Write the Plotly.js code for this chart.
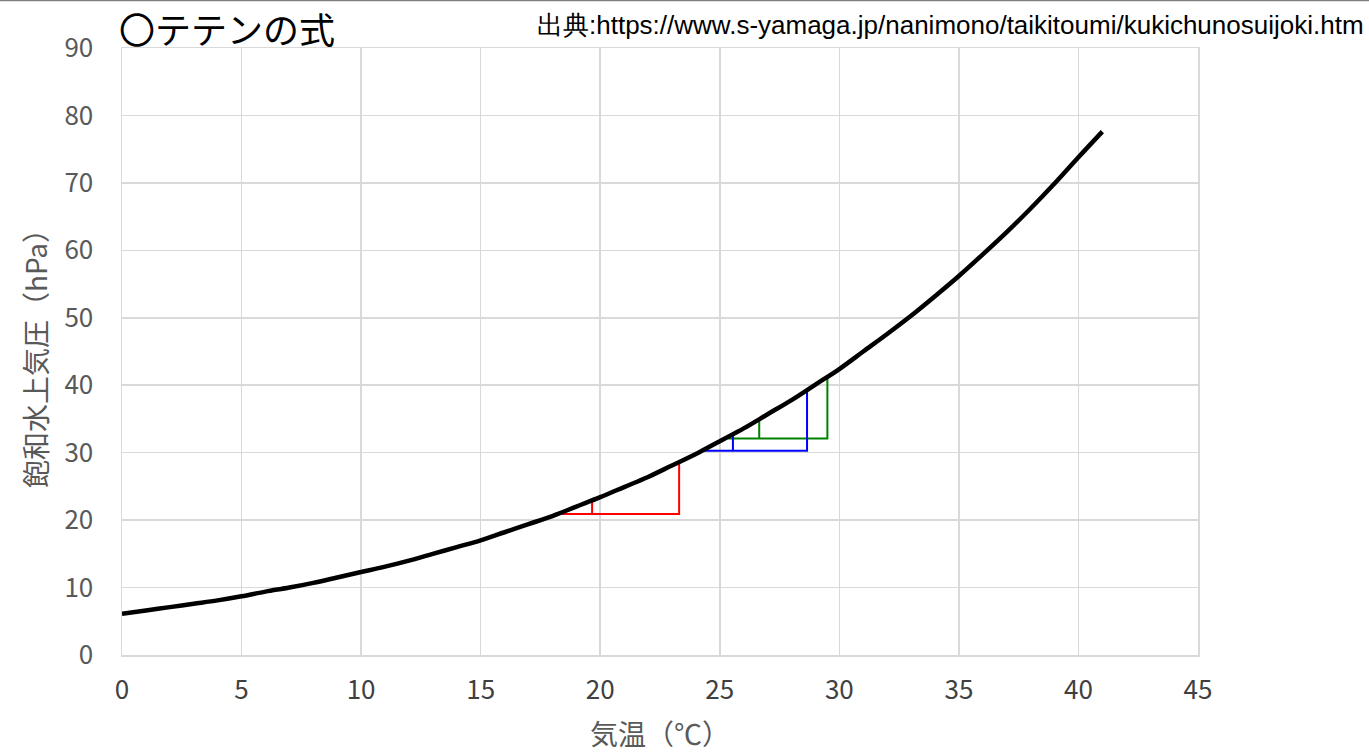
<!DOCTYPE html>
<html><head><meta charset="utf-8">
<script src="https://cdn.plot.ly/plotly-3.0.1.min.js"></script>
<style>html,body{margin:0;padding:0;background:#fff;}#chart{width:1369px;height:753px;}</style>
</head><body><div id="chart"></div>
<script>
// Saturation vapor pressure curve
const temps = [0,1,2,3,4,5,6,7,8,9,10,11,12,13,14,15,16,17,18,19,20,21,22,23,24,25,26,27,28,29,30,31,32,33,34,35,36,37,38,39,40,41];
const pressures = [6.1,6.6,7.1,7.6,8.1,8.7,9.4,10.0,10.7,11.5,12.3,13.1,14.0,15.0,16.0,17.0,18.2,19.4,20.6,22.0,23.4,24.9,26.4,28.1,29.8,31.7,33.6,35.7,37.8,40.1,42.4,45.0,47.6,50.3,53.2,56.2,59.4,62.7,66.2,69.9,73.8,77.6];
// Step lines
const redX = [18.2,19.66,19.66,19.66,23.3,23.3];
const redY = [20.9,20.9,23.0,20.9,20.9,28.4];
const blueX = [24.2,25.55,25.55,25.55,28.65,28.65];
const blueY = [30.3,30.3,32.7,30.3,30.3,39.1];
const greenX = [25.35,26.65,26.65,26.65,29.5,29.5];
const greenY = [32.1,32.1,35.0,32.1,32.1,41.2];

const titleText = '〇テテンの式';
const sourceText = '出典:https://www.s-yamaga.jp/nanimono/taikitoumi/kukichunosuijoki.htm';
const xTitle = '気温（℃）';
const yTitle = '飽和水上気圧（hPa）';

const jp = '"Noto Sans CJK JP", "Noto Sans", sans-serif';
const traces = [
  {x: redX, y: redY, mode: 'lines', line: {color: '#ff0000', width: 2}, hoverinfo: 'skip'},
  {x: greenX, y: greenY, mode: 'lines', line: {color: '#008000', width: 2}, hoverinfo: 'skip'},
  {x: blueX, y: blueY, mode: 'lines', line: {color: '#0000ff', width: 2}, hoverinfo: 'skip'},
  {x: temps, y: pressures, mode: 'lines', line: {color: '#000000', width: 4.5, shape: 'spline'}}
];
const layout = {
  width: 1369, height: 753,
  margin: {l: 122, r: 171, t: 48, b: 98},
  showlegend: false,
  paper_bgcolor: '#fff', plot_bgcolor: '#fff',
  font: {family: jp, color: '#595959'},
  xaxis: {
    range: [0, 45], dtick: 5, tick0: 0,
    showgrid: true, gridcolor: '#d9d9d9', gridwidth: 1.5,
    showline: true, linecolor: '#d9d9d9', linewidth: 1.5, mirror: true,
    zeroline: false, ticks: '',
    tickfont: {size: 26, color: '#404040', family: jp},
    ticklabelstandoff: 11,
    title: {text: xTitle, font: {size: 28, color: '#595959', family: jp}, standoff: 20}
  },
  yaxis: {
    range: [0, 90], dtick: 10, tick0: 0,
    showgrid: true, gridcolor: '#d9d9d9', gridwidth: 1.5,
    showline: true, linecolor: '#d9d9d9', linewidth: 1.5, mirror: true,
    zeroline: false, ticks: '',
    tickfont: {size: 26, color: '#595959', family: jp},
    ticklabelstandoff: 22,
    title: {text: yTitle, font: {size: 28, color: '#595959', family: jp}, standoff: 8}
  },
  annotations: [
    {text: titleText, xref: 'paper', yref: 'paper', x: -0.005, y: 1.0, xanchor: 'left', yanchor: 'bottom', yshift: -8,
     showarrow: false, font: {size: 36, color: '#000', family: jp}},
    {text: sourceText, xref: 'paper', yref: 'paper', x: 1, xshift: 168, y: 1.0, yanchor: 'bottom', yshift: 6, xanchor: 'right',
     showarrow: false, font: {size: 26, color: '#000', family: '"Liberation Sans Narrow", "Liberation Sans", Arial, sans-serif'}}
  ],
  shapes: [
    {type: 'line', xref: 'paper', yref: 'paper', x0: -0.2, x1: 1.3, y0: 1 + 47.5/607, y1: 1 + 47.5/607, line: {color: '#7f7f7f', width: 1.5}}
  ]
};
Plotly.newPlot('chart', traces, layout, {displayModeBar: false, staticPlot: true});
</script></body></html>
